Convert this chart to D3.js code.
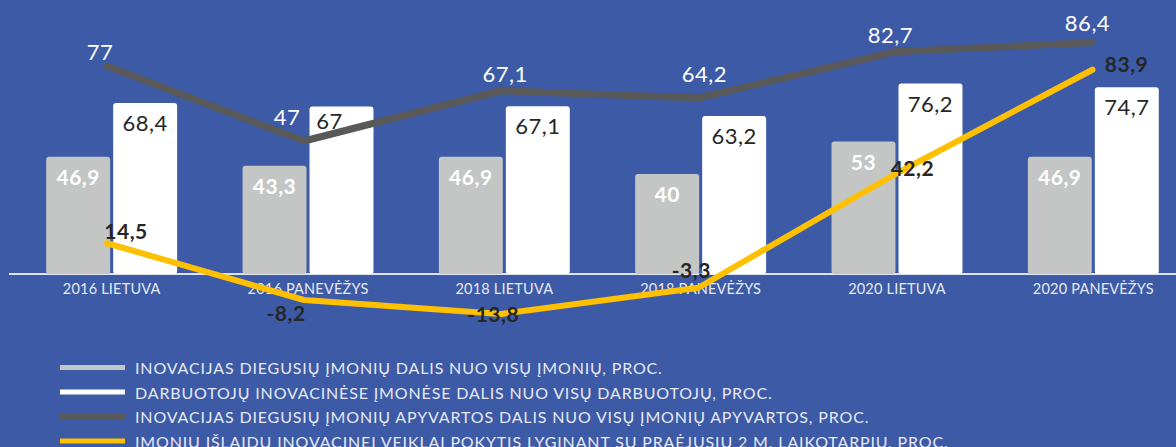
<!DOCTYPE html>
<html>
<head>
<meta charset="utf-8">
<script src="https://cdn.jsdelivr.net/npm/d3@7"></script>
<style>
  html, body { margin: 0; padding: 0; background: #3d5aa6; overflow: hidden; }
  svg text { font-family: Lato, "Open Sans", sans-serif; }
</style>
</head>
<body>
<div id="chart"></div>
<script>
// Duomenys
const categories = ['2016 LIETUVA', '2016 PANEVĖŽYS', '2018 LIETUVA', '2018 PANEVĖŽYS', '2020 LIETUVA', '2020 PANEVĖŽYS'];
const innovShare = [46.9, 43.3, 46.9, 40, 53, 46.9];
const employeeShare = [68.4, 67, 67.1, 63.2, 76.2, 74.7];
const turnoverShare = [77, 47, 67.1, 64.2, 82.7, 86.4];
const spendingChange = [14.5, -8.2, -13.8, -3.3, 42.2, 83.9];
const legendLabels = [
  'INOVACIJAS DIEGUSIŲ ĮMONIŲ DALIS NUO VISŲ ĮMONIŲ, PROC.',
  'DARBUOTOJŲ INOVACINĖSE ĮMONĖSE DALIS NUO VISŲ DARBUOTOJŲ, PROC.',
  'INOVACIJAS DIEGUSIŲ ĮMONIŲ APYVARTOS DALIS NUO VISŲ ĮMONIŲ APYVARTOS, PROC.',
  'ĮMONIŲ IŠLAIDŲ INOVACINEI VEIKLAI POKYTIS LYGINANT SU PRAĖJUSIŲ 2 M. LAIKOTARPIU, PROC.'
];

// Etikečių poslinkiai (rankiniu būdu, kaip originale)
const whiteLabelShift = [[0, 0], [-12, -6], [0, 0], [0, 0], [0, 0], [0, 0]];
const grayLabelShift = [[-7, -6], [-17, -16], [4, -9], [6, -16], [-5, -9], [-5, -12]];
const yellowLabelShift = [[19, -4], [-18, 21], [-8, 8], [-7, -10], [17, 2], [34, 2]];

const width = 1176, height = 447;
const colors = { bg: '#3d5aa6', gray: '#c4c5c5', white: '#ffffff', dark: '#595959', yellow: '#ffc000', text: '#262626', axis: '#dfe3ee' };

const fmt = v => String(v).replace('.', ',');

const svg = d3.select('#chart').append('svg')
  .attr('width', width)
  .attr('height', height);

svg.append('rect').attr('width', width).attr('height', height).attr('fill', colors.bg);

// Skalės
const x0 = d3.scaleBand().domain(categories).range([14, 1191]).paddingInner(0.333).paddingOuter(0.164);
const x1 = d3.scaleBand().domain(['a', 'b']).range([0, x0.bandwidth()]).paddingInner(0.045);
const xLine = d3.scalePoint().domain(categories).range([107, 1092.5]);
const yBar = d3.scaleLinear().domain([0, 100]).range([274, 24]);
const yGray = d3.scaleLinear().domain([0, 100]).range([258.5, 8.5]);
const yYellow = d3.scaleLinear().domain([0, 100]).range([279.5, 29.5]);

// Ašis
const xAxis = svg.append('g')
  .attr('transform', 'translate(0,' + yBar(0) + ')')
  .call(d3.axisBottom(x0).tickSize(0).tickPadding(17));
xAxis.select('.domain').attr('d', 'M9,0H' + width).attr('stroke', colors.axis).attr('stroke-width', 2);
xAxis.selectAll('text')
  .attr('fill', '#e6e9f3')
  .style('font-size', '14.5px')
  .style('letter-spacing', '0.2px')
  .attr('dy', '0.2em');

// Stulpeliai
const groups = svg.selectAll('.group')
  .data(categories)
  .enter().append('g')
  .attr('class', 'group')
  .attr('transform', d => 'translate(' + x0(d) + ',0)');

groups.append('rect')
  .attr('x', x1('a'))
  .attr('y', (d, i) => yBar(innovShare[i]))
  .attr('width', x1.bandwidth())
  .attr('height', (d, i) => yBar(0) - yBar(innovShare[i]))
  .attr('rx', 3)
  .attr('fill', colors.gray);

groups.append('rect')
  .attr('x', x1('b'))
  .attr('y', (d, i) => yBar(employeeShare[i]))
  .attr('width', x1.bandwidth())
  .attr('height', (d, i) => yBar(0) - yBar(employeeShare[i]))
  .attr('rx', 3)
  .attr('fill', colors.white);

groups.append('text')
  .attr('x', x1('a') + x1.bandwidth() / 2)
  .attr('y', (d, i) => yBar(innovShare[i]) + 28)
  .attr('text-anchor', 'middle')
  .attr('fill', '#ffffff')
  .style('font-size', '21px')
  .style('font-weight', 'bold')
  .style('letter-spacing', '0.5px')
  .text((d, i) => fmt(innovShare[i]));

groups.append('text')
  .attr('x', (d, i) => x1('b') + x1.bandwidth() / 2 + whiteLabelShift[i][0])
  .attr('y', (d, i) => yBar(employeeShare[i]) + 28 + whiteLabelShift[i][1])
  .attr('text-anchor', 'middle')
  .attr('fill', colors.text)
  .style('font-size', '22px')
  .style('letter-spacing', '0.5px')
  .text((d, i) => fmt(employeeShare[i]));

// Linijos
const grayLine = d3.line().x((d, i) => xLine(categories[i])).y(d => yGray(d));
const yellowLine = d3.line().x((d, i) => xLine(categories[i])).y(d => yYellow(d));

svg.append('path')
  .datum(turnoverShare)
  .attr('d', grayLine)
  .attr('fill', 'none')
  .attr('stroke', colors.dark)
  .attr('stroke-width', 7)
  .attr('stroke-linecap', 'round')
  .attr('stroke-linejoin', 'round');

svg.append('path')
  .datum(spendingChange)
  .attr('d', yellowLine)
  .attr('fill', 'none')
  .attr('stroke', colors.yellow)
  .attr('stroke-width', 6)
  .attr('stroke-linecap', 'round')
  .attr('stroke-linejoin', 'round');

svg.selectAll('.gray-label')
  .data(turnoverShare)
  .enter().append('text')
  .attr('class', 'gray-label')
  .attr('x', (d, i) => xLine(categories[i]) + grayLabelShift[i][0])
  .attr('y', (d, i) => yGray(d) + grayLabelShift[i][1])
  .attr('text-anchor', 'middle')
  .attr('fill', '#ffffff')
  .style('font-size', '22px')
  .style('letter-spacing', '0.5px')
  .text(d => fmt(d));

svg.selectAll('.yellow-label')
  .data(spendingChange)
  .enter().append('text')
  .attr('class', 'yellow-label')
  .attr('x', (d, i) => xLine(categories[i]) + yellowLabelShift[i][0])
  .attr('y', (d, i) => yYellow(d) + yellowLabelShift[i][1])
  .attr('text-anchor', 'middle')
  .attr('fill', colors.text)
  .style('font-size', '21px')
  .style('font-weight', 'bold')
  .style('letter-spacing', '0.5px')
  .text(d => fmt(d));

// Legenda
const legendColors = [colors.gray, colors.white, colors.dark, colors.yellow];
const legendY = d3.scalePoint().domain(d3.range(4)).range([367.5, 441]);

const legend = svg.selectAll('.legend-item')
  .data(legendLabels)
  .enter().append('g')
  .attr('class', 'legend-item')
  .attr('transform', (d, i) => 'translate(0,' + legendY(i) + ')');

legend.append('line')
  .attr('x1', 60).attr('x2', 125)
  .attr('stroke', (d, i) => legendColors[i])
  .attr('stroke-width', 5);

legend.append('text')
  .attr('x', 135)
  .attr('y', 6.5)
  .attr('fill', '#e6e9f3')
  .style('font-size', '16px')
  .style('letter-spacing', '0.85px')
  .text(d => d);
</script>
</body>
</html>
